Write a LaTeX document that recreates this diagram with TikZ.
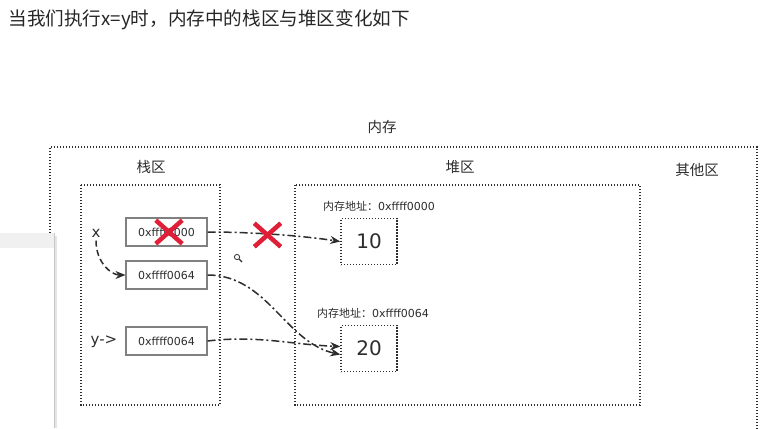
\documentclass[tikz,border=0pt]{standalone}
\usepackage{fontspec}
\setmainfont{DejaVu Sans}
\newfontfamily\cjk{Noto Sans CJK SC}
\usetikzlibrary{shapes.misc,arrows.meta}
\definecolor{xred}{RGB}{225,30,55}
\definecolor{ink}{RGB}{45,45,45}
\tikzset{
  dotbox/.style={draw=ink, line width=1.4pt, dash pattern=on 1.4pt off 1.6pt},
  membox/.style={draw=black!50, line width=1.1pt, minimum width=81pt, minimum height=28pt, inner sep=0pt, font=\fontsize{11}{13}\selectfont, text=ink},
  valbox/.style={dotbox, minimum width=56pt, minimum height=46pt, inner sep=0pt, font=\fontsize{20}{22}\selectfont, text=ink},
  zonelbl/.style={font=\cjk\fontsize{14.5}{16}\selectfont, text=ink},
  addrlbl/.style={font=\fontsize{11}{13}\selectfont, text=ink},
  ptr/.style={draw=ink, line width=1.5pt, dash pattern=on 8pt off 3pt on 2pt off 3pt, -{Stealth[length=10pt,width=8pt]}},
  redx/.style={cross out, draw=xred, line width=4.5pt, minimum width=22pt, minimum height=19pt, inner sep=0pt}
}
\begin{document}
\begin{tikzpicture}[x=1pt,y=-1pt]
\useasboundingbox (0,0) rectangle (767,428);
\fill[white] (0,0) rectangle (767,428);
% title
\node[anchor=west, font=\cjk\fontsize{18.6}{21}\selectfont, text=black!85] (title) at (5,20) {当我们执行x=y时，内存中的栈区与堆区变化如下};
% memory outer
\node[zonelbl] (mem) at (382,127) {内存};
\draw[dotbox] (50,440) -- (50,147) -- (757,147) -- (757,440);
\node[zonelbl] (other) at (697,170) {其他区};
% stack
\node[zonelbl] (stacklbl) at (151,167) {栈区};
\draw[dotbox] (81,185) rectangle (220,405);
% heap
\node[zonelbl] (heaplbl) at (460,167) {堆区};
\draw[dotbox] (295,185) rectangle (640,405);
% stack boxes
\node[membox] (b1) at (166.5,232) {0xffff0000};
\node[membox] (b2) at (166.5,275) {0xffff0064};
\node[membox] (b3) at (166.5,341) {0xffff0064};
\node[font=\fontsize{15}{17}\selectfont, text=ink] (xl) at (96,233) {x};
\node[font=\fontsize{15}{17}\selectfont, text=ink] (yl) at (104,342) {y-{}>};
% heap values
\node[addrlbl] (a1) at (379,206) {{\cjk 内存地址：}0xffff0000};
\node[addrlbl] (a2) at (373,313) {{\cjk 内存地址：}0xffff0064};
\node[valbox] (v10) at (369,241.5) {10};
\node[valbox] (v20) at (369,348.5) {20};
% connectors
\draw[draw=ink, line width=1.5pt, dash pattern=on 6pt off 3.5pt, -{Stealth[length=10pt,width=8pt]}]
  (xl.south) .. controls +(0,22) and +(-14,0) .. (b2.west);
\draw[ptr] (b1.east) .. controls +(45,0) and +(-40,-6) .. (v10.west);
\draw[ptr] (b2.east) .. controls +(60,0) and +(-55,-12) .. ([yshift=-6pt]v20.west);
\draw[ptr] (b3.east) .. controls +(50,-6) and +(-50,-2) .. ([yshift=2pt]v20.west);
% red crosses
\node[redx] (x1) at (169,232) {};
\node[redx] (x2) at (267.5,235) {};
% cursor
\draw[ink, line width=0.8pt] (237,257) circle (2.6);
\draw[ink, line width=1.2pt] (239,259) -- (242,262);
% overlay panel
\fill[black!10] (55,236) rectangle (57,428);
\fill[white] (0,233) rectangle (54,428);
\fill[black!6] (0,233) rectangle (54,248);
\draw[black!22, line width=0.8pt] (54,233) -- (54,428);
\end{tikzpicture}
\end{document}
